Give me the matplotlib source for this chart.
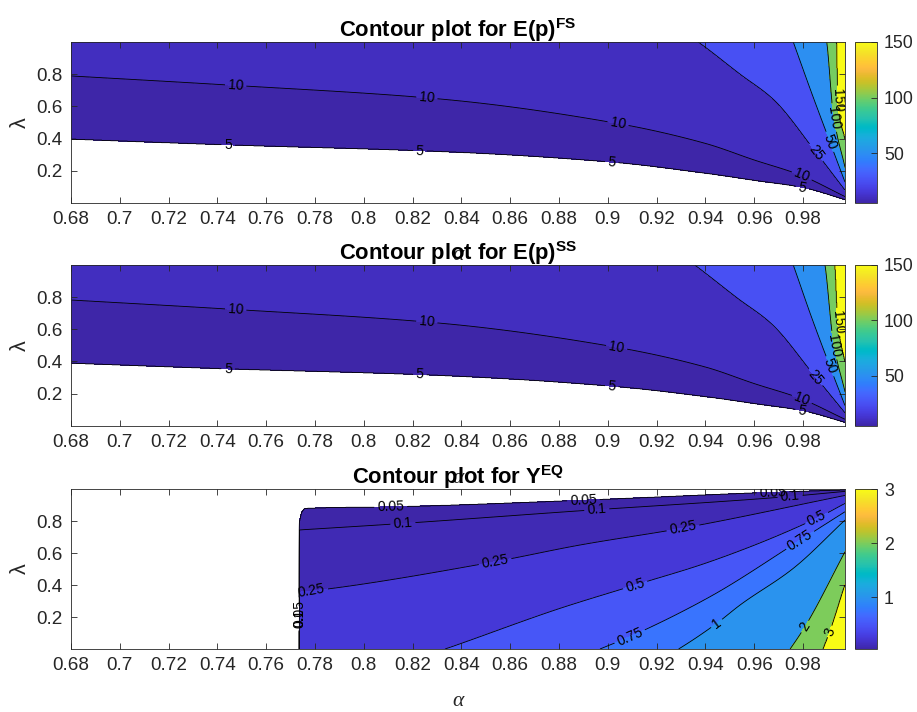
import numpy as np
import matplotlib
matplotlib.use("Agg")
import matplotlib.pyplot as plt
from matplotlib.colors import LinearSegmentedColormap, Normalize
from matplotlib.cm import ScalarMappable

plt.rcParams['font.family'] = ['Liberation Sans', 'DejaVu Sans']
plt.rcParams['mathtext.fontset'] = 'custom'
plt.rcParams['mathtext.rm'] = 'Liberation Sans'
plt.rcParams['mathtext.bf'] = 'Liberation Sans:bold'
plt.rcParams['mathtext.it'] = 'Liberation Sans:italic'

# ---------------- MATLAB parula (64) ----------------
PARULA = [
    (0.2422, 0.1504, 0.6603), (0.2504, 0.1650, 0.7076), (0.2578, 0.1818, 0.7511), (0.2647, 0.1978, 0.7952),
    (0.2706, 0.2147, 0.8364), (0.2751, 0.2342, 0.8710), (0.2783, 0.2559, 0.8991), (0.2803, 0.2782, 0.9221),
    (0.2813, 0.3006, 0.9414), (0.2810, 0.3228, 0.9579), (0.2795, 0.3447, 0.9717), (0.2760, 0.3667, 0.9829),
    (0.2699, 0.3892, 0.9906), (0.2602, 0.4123, 0.9952), (0.2440, 0.4358, 0.9988), (0.2206, 0.4603, 0.9973),
    (0.1963, 0.4847, 0.9892), (0.1834, 0.5074, 0.9798), (0.1786, 0.5289, 0.9682), (0.1764, 0.5499, 0.9520),
    (0.1687, 0.5703, 0.9359), (0.1540, 0.5902, 0.9218), (0.1460, 0.6091, 0.9079), (0.1380, 0.6276, 0.8973),
    (0.1248, 0.6459, 0.8883), (0.1113, 0.6635, 0.8763), (0.0952, 0.6798, 0.8598), (0.0689, 0.6948, 0.8394),
    (0.0297, 0.7082, 0.8163), (0.0036, 0.7203, 0.7917), (0.0067, 0.7312, 0.7660), (0.0433, 0.7411, 0.7394),
    (0.0964, 0.7500, 0.7120), (0.1408, 0.7584, 0.6842), (0.1717, 0.7670, 0.6554), (0.1938, 0.7758, 0.6251),
    (0.2161, 0.7843, 0.5923), (0.2470, 0.7918, 0.5567), (0.2906, 0.7973, 0.5188), (0.3406, 0.8008, 0.4789),
    (0.3909, 0.8029, 0.4354), (0.4456, 0.8024, 0.3909), (0.5044, 0.7993, 0.3480), (0.5616, 0.7942, 0.3045),
    (0.6174, 0.7876, 0.2612), (0.6720, 0.7793, 0.2227), (0.7242, 0.7698, 0.1910), (0.7738, 0.7598, 0.1646),
    (0.8203, 0.7498, 0.1535), (0.8634, 0.7406, 0.1596), (0.9035, 0.7330, 0.1774), (0.9393, 0.7288, 0.2100),
    (0.9728, 0.7298, 0.2394), (0.9956, 0.7434, 0.2371), (0.9970, 0.7659, 0.2199), (0.9952, 0.7893, 0.2028),
    (0.9892, 0.8136, 0.1885), (0.9786, 0.8386, 0.1766), (0.9676, 0.8639, 0.1643), (0.9610, 0.8890, 0.1537),
    (0.9597, 0.9135, 0.1423), (0.9628, 0.9373, 0.1265), (0.9691, 0.9606, 0.1064), (0.9769, 0.9839, 0.0805),
]
parula = LinearSegmentedColormap.from_list('parula', PARULA, N=256)

# ---------------- data (contour traces) ----------------
alpha_min, alpha_max = 0.68, 0.9972
x_ticks = [0.68, 0.70, 0.72, 0.74, 0.76, 0.78, 0.80, 0.82, 0.84, 0.86, 0.88, 0.90, 0.92, 0.94, 0.96, 0.98]
y_ticks = [0.2, 0.4, 0.6, 0.8]

e_levels = [5, 10, 25, 50, 100, 150]
e_cbar_ticks = [50, 100, 150]

# E(p)^FS : lambda position of each contour level along alpha (values > 1 lie above the plot)
fs_a5 = [0.68, 0.744, 0.8312, 0.9016, 0.94, 0.96, 0.98, 0.9972]
fs_l5 = [0.396, 0.360, 0.319, 0.253, 0.184, 0.140, 0.095, 0.020]
fs_a10 = [0.68, 0.744, 0.8312, 0.9036, 0.94, 0.96, 0.9788, 0.9972]
fs_l10 = [0.789, 0.733, 0.646, 0.495, 0.370, 0.267, 0.174, 0.040]
fs_a25 = [0.68, 0.80, 0.90, 0.937, 0.9542, 0.9678, 0.9849, 0.9972]
fs_l25 = [2.6, 2.1, 1.36, 1.0, 0.800, 0.644, 0.323, 0.080]
fs_a50 = [0.68, 0.80, 0.90, 0.95, 0.976, 0.9836, 0.991, 0.9972]
fs_l50 = [5.0, 4.0, 3.0, 2.1, 1.0, 0.680, 0.380, 0.130]
fs_a100 = [0.68, 0.90, 0.97, 0.9897, 0.9923, 0.9972]
fs_l100 = [8.0, 5.5, 2.3, 1.0, 0.560, 0.220]
fs_a150 = [0.68, 0.90, 0.97, 0.9938, 0.9943, 0.9972]
fs_l150 = [12.0, 8.0, 3.5, 1.0, 0.634, 0.400]

# E(p)^SS
ss_a5 = [0.68, 0.744, 0.8312, 0.9016, 0.94, 0.96, 0.98, 0.9972]
ss_l5 = [0.388, 0.353, 0.312, 0.245, 0.180, 0.137, 0.092, 0.020]
ss_a10 = [0.68, 0.744, 0.8312, 0.9036, 0.94, 0.96, 0.9788, 0.9972]
ss_l10 = [0.782, 0.726, 0.638, 0.488, 0.365, 0.262, 0.170, 0.040]
ss_a25 = [0.68, 0.80, 0.90, 0.9356, 0.953, 0.967, 0.9845, 0.9972]
ss_l25 = [2.6, 2.1, 1.38, 1.0, 0.795, 0.635, 0.315, 0.080]
ss_a50 = [0.68, 0.80, 0.90, 0.95, 0.976, 0.9836, 0.991, 0.9972]
ss_l50 = [5.0, 4.0, 3.0, 2.1, 1.0, 0.670, 0.370, 0.125]
ss_a100 = [0.68, 0.90, 0.97, 0.989, 0.9923, 0.9972]
ss_l100 = [8.0, 5.5, 2.3, 1.0, 0.530, 0.210]
ss_a150 = [0.68, 0.90, 0.97, 0.9931, 0.9943, 0.9972]
ss_l150 = [12.0, 8.0, 3.5, 1.0, 0.640, 0.400]

# Y^EQ (defined only for alpha >= y_alpha_start; negative lambdas lie below the plot)
y_levels = [0.05, 0.1, 0.25, 0.5, 0.75, 1, 2, 3]
y_cbar_ticks = [1, 2, 3]
y_alpha_start = 0.7736
y_a005 = [0.7736, 0.7745, 0.776, 0.811, 0.885, 0.963, 0.9972]
y_l005 = [0.800, 0.855, 0.879, 0.889, 0.928, 0.978, 0.995]
y_a010 = [0.7736, 0.816, 0.885, 0.9735, 0.9972]
y_l010 = [0.744, 0.785, 0.860, 0.952, 0.985]
y_a025 = [0.7736, 0.782, 0.8538, 0.8886, 0.9308, 0.9972]
y_l025 = [0.355, 0.369, 0.546, 0.650, 0.756, 0.960]
y_a050 = [0.7736, 0.8333, 0.8804, 0.9112, 0.9419, 0.9856, 0.9972]
y_l050 = [-0.30, 0.0, 0.254, 0.400, 0.546, 0.817, 0.910]
y_a075 = [0.7736, 0.8968, 0.909, 0.9419, 0.9788, 0.9972]
y_l075 = [-0.80, 0.0, 0.077, 0.327, 0.680, 0.858]
y_a1 = [0.7736, 0.929, 0.9446, 0.9542, 0.976, 0.9972]
y_l1 = [-1.25, 0.0, 0.160, 0.275, 0.504, 0.806]
y_a2 = [0.7736, 0.9747, 0.9808, 0.9972]
y_l2 = [-4.0, 0.0, 0.140, 0.608]
y_a3 = [0.7736, 0.9883, 0.991, 0.9972]
y_l3 = [-9.0, 0.0, 0.108, 0.400]

# ---------------- field construction ----------------
a_grid = np.linspace(alpha_min, alpha_max, 1600)
l_grid = np.linspace(0.0, 1.0, 500)


def pchip(x, y, xq):
    """Monotone piecewise-cubic curve through the traced contour points."""
    x = np.asarray(x, float)
    y = np.asarray(y, float)
    h = np.diff(x)
    d = np.diff(y) / h
    n = x.size
    m = np.zeros(n)
    m[0], m[-1] = d[0], d[-1]
    for k in range(1, n - 1):
        if d[k - 1] * d[k] > 0:
            w1 = 2 * h[k] + h[k - 1]
            w2 = h[k] + 2 * h[k - 1]
            m[k] = (w1 + w2) / (w1 / d[k - 1] + w2 / d[k])
    xq = np.clip(np.asarray(xq, float), x[0], x[-1])
    idx = np.clip(np.searchsorted(x, xq) - 1, 0, n - 2)
    t = (xq - x[idx]) / h[idx]
    h00 = 2 * t ** 3 - 3 * t ** 2 + 1
    h10 = t ** 3 - 2 * t ** 2 + t
    h01 = -2 * t ** 3 + 3 * t ** 2
    h11 = t ** 3 - t ** 2
    return h00 * y[idx] + h10 * h[idx] * m[idx] + h01 * y[idx + 1] + h11 * h[idx] * m[idx + 1]


def build_field(curves, levels, below, above, decreasing=False, a_start=None):
    cross = np.array([pchip(a, l, a_grid) for a, l in curves])
    for k in range(1, cross.shape[0]):
        if decreasing:
            cross[k] = np.minimum(cross[k], cross[k - 1] - 1e-4)
        else:
            cross[k] = np.maximum(cross[k], cross[k - 1] + 1e-4)
    lv = np.asarray(levels, float)
    Z = np.full((l_grid.size, a_grid.size), float(below))
    for j in range(a_grid.size):
        if a_start is not None and a_grid[j] < a_start:
            continue
        c = cross[:, j]
        if decreasing:
            Z[:, j] = np.interp(l_grid, c[::-1], lv[::-1], left=above, right=below)
        else:
            Z[:, j] = np.interp(l_grid, c, lv, left=below, right=above)
    return Z


Z_fs = build_field([(fs_a5, fs_l5), (fs_a10, fs_l10), (fs_a25, fs_l25), (fs_a50, fs_l50),
                    (fs_a100, fs_l100), (fs_a150, fs_l150)], e_levels, 0.0, 200.0)
Z_ss = build_field([(ss_a5, ss_l5), (ss_a10, ss_l10), (ss_a25, ss_l25), (ss_a50, ss_l50),
                    (ss_a100, ss_l100), (ss_a150, ss_l150)], e_levels, 0.0, 200.0)
Z_y = build_field([(y_a005, y_l005), (y_a010, y_l010), (y_a025, y_l025), (y_a050, y_l050),
                   (y_a075, y_l075), (y_a1, y_l1), (y_a2, y_l2), (y_a3, y_l3)],
                  y_levels, 0.0, 4.0, decreasing=True, a_start=y_alpha_start)

# ---------------- figure ----------------
fig = plt.figure(figsize=(9.17, 7.12), dpi=100, facecolor='white')
W, H = 917.0, 712.0
ax_left, ax_right = 71, 845
cb_left, cb_right = 855, 877
panels = [(42, 203), (265, 425.7), (489, 649)]

axcol = (0.15, 0.15, 0.15)
tick_fs = 13.6
title_fs = 15.8
clabel_fs = 10


def make_panel(idx, Z, levels, title, label_pts, cbar_ticks):
    top, bot = panels[idx]
    ax = fig.add_axes([ax_left / W, 1 - bot / H, (ax_right - ax_left) / W, (bot - top) / H])
    cax = fig.add_axes([cb_left / W, 1 - bot / H, (cb_right - cb_left) / W, (bot - top) / H])
    vmin, vmax = levels[0], levels[-1]
    band_colors = [parula((lv - vmin) / (vmax - vmin)) for lv in levels]
    ax.contourf(a_grid, l_grid, Z, levels=levels, colors=band_colors, extend='max')
    ax.set_xlim(alpha_min, alpha_max)
    ax.set_ylim(0, 1)
    pts_by_level = dict(label_pts)
    for lev in levels:
        cs = ax.contour(a_grid, l_grid, Z, levels=[lev], colors='k', linewidths=0.6)
        pts = pts_by_level.get(lev)
        if pts:
            ax.clabel(cs, manual=pts, inline=True, fmt='%g', fontsize=clabel_fs, inline_spacing=3)
    ax.set_xlim(alpha_min, alpha_max)
    ax.set_ylim(0, 1)
    ax.set_xticks(x_ticks)
    ax.set_xticklabels(['%g' % v for v in x_ticks])
    ax.set_yticks(y_ticks)
    ax.set_yticklabels(['%g' % v for v in y_ticks])
    ax.tick_params(direction='in', top=True, right=True, length=4.5, width=0.6,
                   labelsize=tick_fs, colors=axcol, pad=6)
    for s in ax.spines.values():
        s.set_color(axcol)
        s.set_linewidth(0.6)
    ax.set_title(title, fontsize=title_fs, fontweight='bold', pad=3.5)
    ax.set_ylabel('λ', fontsize=15.5, color=axcol, labelpad=4)
    ax.set_xlabel('α', fontsize=15.5, color=axcol, labelpad=13,
                  family=['Liberation Serif', 'DejaVu Serif'], style='italic')

    sm = ScalarMappable(norm=Normalize(vmin, vmax), cmap=parula)
    cb = fig.colorbar(sm, cax=cax, ticks=cbar_ticks)
    cb.outline.set_edgecolor(axcol)
    cb.outline.set_linewidth(0.6)
    cax.tick_params(direction='in', length=4, width=0.6, labelsize=12.8, colors=axcol, pad=5)
    cax.set_yticklabels(['%g' % v for v in cbar_ticks])
    return ax


fs_labels = [
    (10, [(0.7475, 0.733), (0.8258, 0.65), (0.9042, 0.495), (0.9795, 0.17)]),
    (5, [(0.7444, 0.36), (0.823, 0.322), (0.9016, 0.25), (0.9795, 0.09)]),
    (25, [(0.985, 0.31)]),
    (50, [(0.991, 0.38)]),
    (100, [(0.9923, 0.53)]),
    (150, [(0.9943, 0.64)]),
]
ss_labels = [
    (10, [(0.7475, 0.726), (0.8258, 0.64), (0.9036, 0.488), (0.9795, 0.165)]),
    (5, [(0.7444, 0.353), (0.823, 0.315), (0.9016, 0.245), (0.9795, 0.087)]),
    (25, [(0.985, 0.30)]),
    (50, [(0.991, 0.37)]),
    (100, [(0.9923, 0.50)]),
    (150, [(0.9943, 0.645)]),
]
y_labels = [
    (0.05, [(0.7737, 0.22), (0.811, 0.889), (0.890, 0.93), (0.9677, 0.98)]),
    (0.1, [(0.7737, 0.19), (0.816, 0.787), (0.8955, 0.864), (0.9747, 0.955)]),
    (0.25, [(0.7787, 0.34), (0.8538, 0.546), (0.9308, 0.756)]),
    (0.5, [(0.9112, 0.40), (0.9856, 0.817)]),
    (0.75, [(0.909, 0.077), (0.9788, 0.68)]),
    (1, [(0.9446, 0.16)]),
    (2, [(0.9808, 0.14)]),
    (3, [(0.991, 0.108)]),
]

make_panel(0, Z_fs, e_levels, r'Contour plot for E(p)$^{\mathbf{FS}}$', fs_labels, e_cbar_ticks)
make_panel(1, Z_ss, e_levels, r'Contour plot for E(p)$^{\mathbf{SS}}$', ss_labels, e_cbar_ticks)
make_panel(2, Z_y, y_levels, r'Contour plot for Y$^{\mathbf{EQ}}$', y_labels, y_cbar_ticks)

fig.savefig('out.png', dpi=100, facecolor='white')
